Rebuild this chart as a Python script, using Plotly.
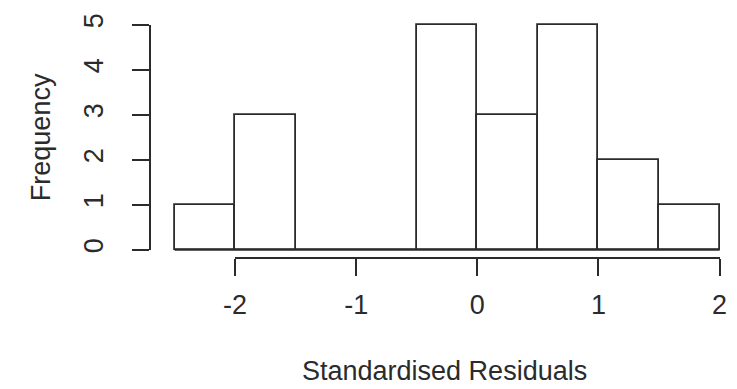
import plotly.graph_objects as go

# Histogram of standardised residuals (bin edges and counts per bin)
bin_edges = [-2.5, -2.0, -1.5, -1.0, -0.5, 0.0, 0.5, 1.0, 1.5, 2.0]
counts = [1, 3, 0, 0, 5, 3, 5, 2, 1]
x_ticks = [-2, -1, 0, 1, 2]
y_ticks = [0, 1, 2, 3, 4, 5]
x_title = "Standardised Residuals"
y_title = "Frequency"

W, H = 737, 389
INK = "#2b2b2b"
FONT = "Liberation Sans, Arial, Helvetica, sans-serif"
FS = 27
LW = 1.8

# pixel placement of the data space
X0_PX, X_PER = 478.3, 124.5   # pixel of x=0, pixels per unit
Y0_PX, Y_PER = 247.3, 46.8    # pixel of y=0, pixels per unit
XAXIS_PX = 256                # detached x-axis line (pixels from top)
YAXIS_PX = 142                # detached y-axis line (pixels from left)

centers = [(a + b) / 2 for a, b in zip(bin_edges[:-1], bin_edges[1:])]
widths = [b - a for a, b in zip(bin_edges[:-1], bin_edges[1:])]

fig = go.Figure()
fig.add_trace(go.Bar(
    x=centers, y=counts, width=widths,
    marker=dict(color="white", line=dict(color=INK, width=LW)),
    xaxis="x", yaxis="y", showlegend=False, hoverinfo="x+y",
))
# baseline under empty bins
fig.add_trace(go.Scatter(
    x=[bin_edges[0], bin_edges[-1]], y=[0, 0], mode="lines",
    line=dict(color=INK, width=LW), xaxis="x", yaxis="y",
    showlegend=False, hoverinfo="skip",
))
# invisible carriers for the detached axes
fig.add_trace(go.Scatter(x=[x_ticks[0], x_ticks[-1]], y=[0, 0], mode="markers",
                         marker=dict(opacity=0), xaxis="x2", yaxis="y",
                         showlegend=False, hoverinfo="skip"))
fig.add_trace(go.Scatter(x=[0, 0], y=[y_ticks[0], y_ticks[-1]], mode="markers",
                         marker=dict(opacity=0), xaxis="x", yaxis="y2",
                         showlegend=False, hoverinfo="skip"))

x_range = [(0 - X0_PX) / X_PER, (W - X0_PX) / X_PER]
y_range = [(Y0_PX - H) / Y_PER, Y0_PX / Y_PER]

x2_dom = [(X0_PX + x_ticks[0] * X_PER) / W, (X0_PX + x_ticks[-1] * X_PER) / W]
y2_dom = [1 - (Y0_PX - y_ticks[0] * Y_PER) / H, 1 - (Y0_PX - y_ticks[-1] * Y_PER) / H]

axis_style = dict(
    showline=True, linecolor=INK, linewidth=LW,
    ticks="outside", ticklen=17, tickwidth=LW, tickcolor=INK,
    showgrid=False, zeroline=False, fixedrange=True,
    tickfont=dict(family=FONT, size=FS, color=INK),
)

fig.update_layout(
    width=W, height=H,
    margin=dict(l=0, r=0, t=0, b=0, pad=0),
    paper_bgcolor="white", plot_bgcolor="rgba(0,0,0,0)",
    bargap=0,
    xaxis=dict(domain=[0, 1], range=x_range, visible=False, fixedrange=True),
    yaxis=dict(domain=[0, 1], range=y_range, visible=False, fixedrange=True),
    xaxis2=dict(domain=x2_dom, range=[x_ticks[0], x_ticks[-1]], anchor="free",
                position=1 - XAXIS_PX / H, tickvals=x_ticks, ticklabelstandoff=6,
                ticktext=[str(v) for v in x_ticks], **axis_style),
    yaxis2=dict(domain=y2_dom, range=[y_ticks[0], y_ticks[-1]], anchor="free",
                position=YAXIS_PX / W, tickvals=y_ticks, tickangle=-90,
                ticklabelstandoff=18,
                ticktext=[str(v) for v in y_ticks], **axis_style),
    annotations=[
        dict(text=x_title, x=445 / W, y=1 - 373 / H, xref="paper", yref="paper",
             showarrow=False, xanchor="center", yanchor="middle",
             font=dict(family=FONT, size=FS, color=INK)),
        dict(text=y_title, x=30 / W, y=1 - 130 / H, xref="paper", yref="paper",
             showarrow=False, xanchor="center", yanchor="middle", textangle=-90,
             font=dict(family=FONT, size=FS, color=INK)),
    ],
)

fig.write_html("out.html")
